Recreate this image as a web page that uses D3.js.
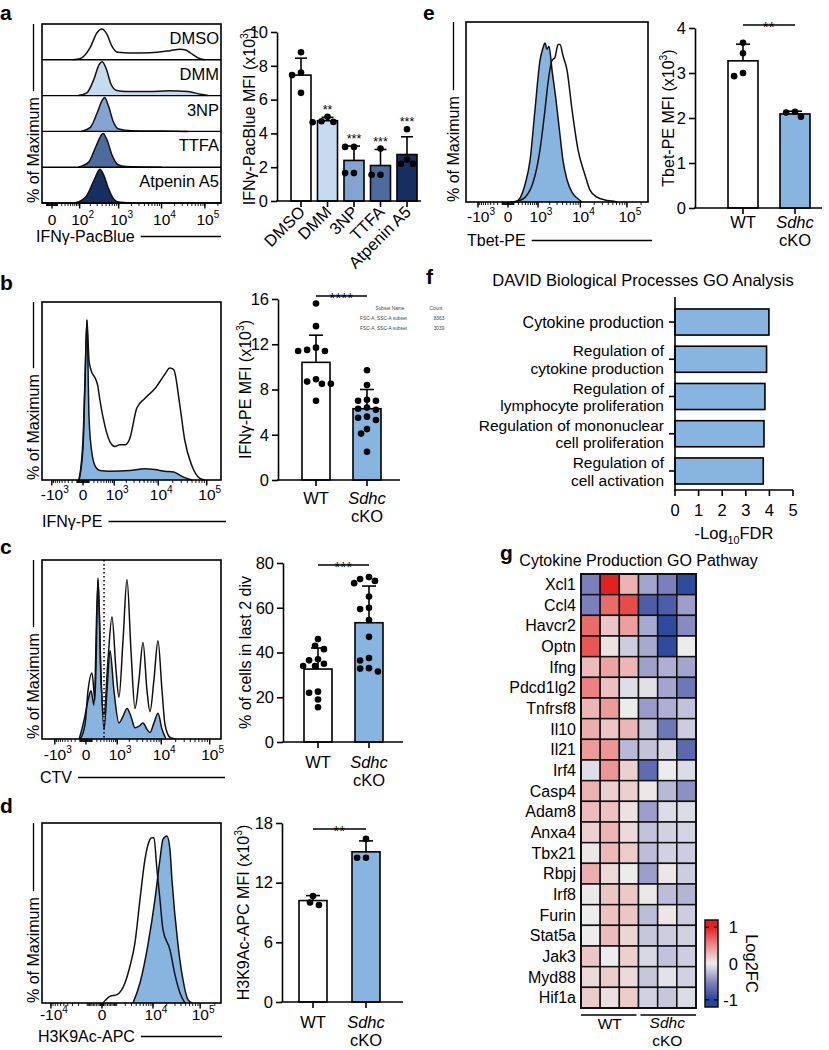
<!DOCTYPE html>
<html><head><meta charset="utf-8">
<script src="https://cdn.jsdelivr.net/npm/d3@7/dist/d3.min.js"></script>
<style>html,body{margin:0;padding:0;background:#fff;} svg{display:block;}</style>
</head><body>
<script>
// ================= DATA =================
// ---- Panel a ----
const aCategories = ["DMSO","DMM","3NP","TTFA","Atpenin A5"];
const aColors = ["#ffffff","#c5dcf0","#83a4d0","#4c6c9e","#162e60"];
const aMeans = [7.45,4.75,2.4,2.1,2.75];
const aSD = [1.0,0.2,0.85,0.95,1.05];
const aPoints = [[8.8,7.6,7.45,6.4],[4.98,4.72,4.68,4.66],[3.2,3.2,1.65,1.65],[3.1,1.55,1.55],[4.25,2.45,2.2,2.2]];
const aStars = ["","**","***","***","***"];
const aYTicks = [0,2,4,6,8,10];
const aHistTicks = [0,1e2,1e3,1e4,1e5];
const aHistTickLabels = [["0",""],["10","2"],["10","3"],["10","4"],["10","5"]];
const aHistDMSO = [[60,0],[102,3],[195,35],[297,80],[396,91],[525,75],[694,40],[966,22],[1850,20],[5400,21],[15700,27],[26600,31],[36000,29],[45400,21],[77000,3],[100000,0]];
const aHistDMM = [[90,0],[160,8],[250,50],[330,90],[400,100],[500,80],[650,35],[900,15],[1500,12],[5000,12],[15000,14],[40000,12],[80000,4],[120000,0]];
const aHist3NP = [[110,0],[200,12],[300,55],[400,92],[460,100],[560,78],[750,28],[1000,7],[2000,2],[10000,1],[40000,0]];
const aHistTTFA = [[90,0],[180,15],[280,62],[420,100],[520,82],[700,35],[950,8],[1500,2],[10000,0]];
const aHistAtpenin = [[70,0],[150,18],[250,68],[350,100],[440,82],[560,45],[760,12],[1000,3],[2000,0]];
const aHistograms = [aHistDMSO,aHistDMM,aHist3NP,aHistTTFA,aHistAtpenin];

// ---- shared genotype labels ----
const genotypes = ["WT","Sdhc cKO"];
const blue = "#87b5e0";

// ---- Panel b ----
const bMeans = [10.4,6.3];
const bSD = [2.4,1.7];
const bPoints = [[15.6,13.6,11.7,11.4,11.4,11.5,8.7,8.5,8.5,8.9,7.0],[9.7,8.4,7.0,7.0,7.1,6.3,6.2,6.4,5.5,5.3,5.6,4.5,4.1,2.5]];
const bYTicks = [0,4,8,12,16];
const bStars = "****";
const bHistTicks = [-1e3,0,1e3,1e4,1e5];
const bHistTickLabels = [["-10","3"],["0",""],["10","3"],["10","4"],["10","5"]];
const bHistWT = [[-62,0],[0,25],[29,62],[61,100],[97,75],[125,70],[156,67],[225,64],[300,59],[363,50],[538,34],[760,24],[1040,21],[1393,22],[1840,22],[2406,26],[3460,45],[5170,51],[8440,57],[13700,66],[17400,70],[21000,69],[28000,47],[35400,25],[49500,9],[72200,1],[91500,0]];
const bHistKO = [[-62,0],[0,20],[29,60],[61,100],[97,40],[125,25],[225,9],[363,6],[760,5.5],[2406,6],[5170,7],[8440,6.5],[13700,5.5],[21000,5],[28000,3],[35400,1.5],[49500,0]];
const bSubsetHeader = ["Subset Name","Count"];
const bSubsetRows = [["FSC-A, SSC-A subset","8363"],["FSC-A, SSC-A subset","3039"]];

// ---- Panel c ----
const cMeans = [32.6,53.3];
const cSD = [9.4,16.4];
const cPoints = [[46,43,41.5,36.5,37,34,34,35,22.5,22,19,15.5],[72.8,71,72,73.7,65,59.4,60,54.5,47,37.5,36.4,33,31.5,32.8]];
const cYTicks = [0,20,40,60,80];
const cStars = "***";
const cGate = 400;
const cHistTicks = [-1e3,0,1e3,1e4,1e5];
const cHistTickLabels = [["-10","3"],["0",""],["10","3"],["10","4"],["10","5"]];
const cHistWT = [[-94,0],[-14,9],[30,30],[98,41],[158,24],[228,99],[307,37],[399,15],[543,49],[718,76],[927,43],[1114,26],[1407,61],[1761,99],[2184,55],[2700,19],[3324,37],[4069,60],[4974,30],[5770,17],[7020,37],[8530,61],[10390,30],[11980,9],[15240,1],[19400,0]];
const cHistKO = [[-112,0],[-27,12],[30,24],[80,30],[137,21],[228,100],[307,40],[399,6],[505,30],[627,55],[816,30],[1114,10],[1407,14],[1761,19],[2184,14],[2700,7],[3324,8],[4069,10],[4974,6],[5770,4],[7020,10],[8530,16],[10390,6],[12560,0]];

// ---- Panel d ----
const dMeans = [10.2,15.1];
const dSD = [0.5,1.1];
const dPoints = [[10.65,9.75,10.0],[16.4,14.5,14.5]];
const dYTicks = [0,6,12,18];
const dStars = "**";
const dHistTicks = [-1e4,0,1e4,1e5];
const dHistTickLabels = [["-10","4"],["0",""],["10","4"],["10","5"]];
const dHistWT = [[48,0],[456,4],[1023,5],[1945,12],[2727,22],[3712,36],[4970,62],[6546,86],[8550,98],[9470,99],[10500,99],[12250,80],[14270,62],[16580,44],[23400,32],[29900,17],[38100,6],[48400,0]];
const dHistKO = [[3300,0],[4970,12],[7690,35],[11070,62],[14270,86],[16580,98],[20200,100],[23400,92],[25800,74],[34600,35],[44000,14],[55900,2],[67700,0]];

// ---- Panel e ----
const eMeans = [3.27,2.09];
const eSD = [0.37,0.06];
const ePoints = [[3.67,3.44,3.0,2.93],[2.14,2.03,2.12]];
const eYTicks = [0,1,2,3,4];
const eStars = "**";
const eHistTicks = [-1e3,0,1e3,1e4,1e5];
const eHistTickLabels = [["-10","3"],["0",""],["10","3"],["10","4"],["10","5"]];
const eHistWT = [[31,0],[239,1],[579,7.5],[1134,33],[1530,58],[1818,75],[2278,89],[2685,91],[3160,99],[3509,99],[4110,92],[5070,83],[6560,58],[8880,33],[12630,17],[16230,7.5],[22980,3],[34080,1.3],[48100,0.6],[64500,0]];
const eHistKO = [[123,0],[239,2.5],[389,11],[579,26],[822,58],[1134,89],[1359,97],[1530,100],[1719,96],[1924,98],[2278,83],[2836,64],[3509,42],[4110,26],[5070,14],[6560,6],[8460,2.5],[10870,0]];

// ---- Panel f ----
const fTerms = [["Cytokine production"],["Regulation of","cytokine production"],["Regulation of","lymphocyte proliferation"],["Regulation of mononuclear","cell proliferation"],["Regulation of","cell activation"]];
const fValues = [3.98,3.88,3.81,3.77,3.74];
const fTicks = [0,1,2,3,4,5];

// ---- Panel g ----
const gGenes = ["Xcl1","Ccl4","Havcr2","Optn","Ifng","Pdcd1lg2","Tnfrsf8","Il10","Il21","Irf4","Casp4","Adam8","Anxa4","Tbx21","Rbpj","Irf8","Furin","Stat5a","Jak3","Myd88","Hif1a"];
const gSamples = ["WT1","WT2","WT3","KO1","KO2","KO3"];
const gValues = [
 [-0.55,1.0,0.3,-0.35,-0.55,-0.95],
 [-0.55,0.65,0.8,-0.8,-0.8,-0.38],
 [0.65,0.2,0.4,-0.33,-0.95,-0.48],
 [0.75,0.05,-0.15,-0.33,-0.95,0.0],
 [0.25,0.38,0.28,-0.37,-0.3,-0.35],
 [0.55,0.23,-0.07,-0.06,-0.35,-0.62],
 [0.28,0.42,0.0,-0.4,-0.3,-0.2],
 [0.33,0.2,0.28,-0.2,-0.62,-0.15],
 [0.42,0.45,-0.25,-0.2,-0.1,-0.72],
 [-0.07,0.45,0.15,-0.7,0.0,-0.08],
 [0.3,0.15,0.15,0.02,-0.25,-0.45],
 [0.25,0.22,0.05,-0.38,-0.08,-0.08],
 [0.15,0.28,0.1,-0.2,-0.13,-0.12],
 [0.03,0.27,0.17,-0.23,-0.13,-0.15],
 [0.32,0.1,0.0,-0.38,0.03,-0.15],
 [0.02,0.2,0.18,0.02,-0.23,-0.27],
 [0.0,0.22,0.2,-0.23,0.03,-0.15],
 [0.0,0.25,0.12,-0.18,-0.15,-0.13],
 [0.2,0.0,0.15,-0.1,-0.2,-0.15],
 [0.1,0.17,0.1,-0.18,-0.05,-0.13],
 [0.17,0.07,0.17,-0.13,-0.18,-0.08]
];
const gColorStops = [-1,-0.5,0,0.5,1];
const gColorRange = ["#26449a","#8486c0","#ececec","#ec8c8c","#e3211f"];
const gLegendTicks = [1,0,-1];

// ================= DRAWING =================
const FF = '"Liberation Sans", Arial, Helvetica, sans-serif';
const SW = 1.6;
const svg = d3.select("body").append("svg").attr("width",829).attr("height",1050).attr("font-family",FF);
svg.append("rect").attr("width",829).attr("height",1050).attr("fill","#fff");

function rich(g, x, y, segs, o = {}) {
  const size = o.size || 16;
  const t = g.append("text").attr("x", x).attr("y", y).attr("font-size", size)
    .attr("text-anchor", o.anchor || "start").attr("fill", o.fill || "#000");
  if (o.rotate != null) t.attr("transform", `rotate(${o.rotate},${x},${y})`);
  if (o.italic) t.attr("font-style", "italic");
  if (o.weight) t.attr("font-weight", o.weight);
  if (o.spacing) t.attr("letter-spacing", o.spacing);
  let shift = 0;
  (typeof segs === "string" ? [{t: segs}] : segs).forEach(s => {
    const sp = t.append("tspan").text(s.t);
    let target = 0;
    if (s.sup) { target = -size * 0.42; sp.attr("font-size", size * 0.65); }
    if (s.sub) { target = size * 0.28; sp.attr("font-size", size * 0.65); }
    if (target !== shift) { sp.attr("dy", target - shift); shift = target; }
    if (s.italic) sp.attr("font-style", "italic");
  });
  return t;
}
function line(g, x1, y1, x2, y2, w = SW, dash = null) {
  const l = g.append("line").attr("x1", x1).attr("y1", y1).attr("x2", x2).attr("y2", y2)
    .attr("stroke", "#000").attr("stroke-width", w);
  if (dash) l.attr("stroke-dasharray", dash);
  return l;
}
function panelLabel(s, x, y) { rich(svg, x, y, s, {size: 21, weight: "bold"}); }

function histFrame(o) {
  const g = o.g;
  const minors = [];
  for (let d = 0; d <= 6; d++) for (let k = 1; k <= 9; k++) { const v = k * Math.pow(10, d); minors.push(v, -v); }
  const mv = minors.filter(v => { const p = o.xs(v); return p > o.x0 + 1.5 && p < o.x1 - 1.5; });
  g.selectAll(null).data(mv).join("line")
    .attr("x1", d => o.xs(d)).attr("x2", d => o.xs(d)).attr("y1", o.y1).attr("y2", o.y1 + 3)
    .attr("stroke", "#000").attr("stroke-width", 0.9);
  g.selectAll(null).data(o.ticks).join("line")
    .attr("x1", d => o.xs(d)).attr("x2", d => o.xs(d)).attr("y1", o.y1).attr("y2", o.y1 + 5.5)
    .attr("stroke", "#000").attr("stroke-width", 1.4);
  o.ticks.forEach((v, i) => {
    const lab = o.tickLabels[i];
    const segs = [{t: lab[0]}];
    if (lab[1]) segs.push({t: lab[1], sup: true});
    rich(g, o.xs(v) + (lab[1] ? 3 : 0), o.tickBase, segs, {anchor: "middle", size: 15.5});
  });
  const xl = rich(g, o.xLabelX, o.xLabelBase, o.xLabel, {size: 16});
  const len = xl.node().getComputedTextLength();
  line(g, o.xLabelX + len + 6, o.xLabelBase - 5.5, o.xLineEnd, o.xLabelBase - 5.5, 1.3);
  const yl = g.append("text").attr("transform", `translate(${o.yLabelX},${o.y1}) rotate(-90)`)
    .attr("font-size", 16).text("% of Maximum");
  const ylen = yl.node().getComputedTextLength();
  line(g, o.yLabelX - 5.5, o.y1 - ylen - 6, o.yLabelX - 5.5, o.y0, 1.3);
  g.append("rect").attr("x", o.x0).attr("y", o.y0).attr("width", o.x1 - o.x0).attr("height", o.y1 - o.y0)
    .attr("fill", "none").attr("stroke", "#000").attr("stroke-width", SW);
}
function drawCurve(g, data, xs, ys, fill) {
  if (fill) g.append("path").datum(data)
    .attr("d", d3.area().x(d => xs(d[0])).y0(ys(0)).y1(d => ys(d[1])).curve(d3.curveMonotoneX))
    .attr("fill", fill);
  g.append("path").datum(data)
    .attr("d", d3.line().x(d => xs(d[0])).y(d => ys(d[1])).curve(d3.curveMonotoneX))
    .attr("fill", "none").attr("stroke", "#111").attr("stroke-width", 1.5).attr("stroke-linejoin", "round");
}
function swarm(vals, y, cx, r) {
  const placed = [];
  const order = vals.map((v, i) => [v, i]).sort((a, b) => b[0] - a[0]);
  order.forEach(([v]) => {
    const py = y(v);
    for (let k = 0; k < 40; k++) {
      const off = (k % 2 ? -1 : 1) * Math.ceil(k / 2) * r * 0.9;
      const px = cx + off;
      if (placed.every(p => Math.hypot(p[0] - px, p[1] - py) >= 2 * r + 0.3)) { placed.push([px, py]); break; }
    }
  });
  return placed;
}
function barChart(o) {
  const g = svg.append("g");
  const y = d3.scaleLinear().domain([0, o.yMax]).range([o.yBottom, o.yTop]);
  const x = d3.scalePoint().domain(o.cats).range(o.centers);
  g.selectAll(null).data(o.cats).join("rect")
    .attr("x", d => x(d) - o.barW / 2).attr("y", (d, i) => y(o.means[i]))
    .attr("width", o.barW).attr("height", (d, i) => y(0) - y(o.means[i]))
    .attr("fill", (d, i) => o.fills[i]).attr("stroke", "#000").attr("stroke-width", SW);
  o.cats.forEach((c, i) => {
    const top = y(o.means[i] + o.sd[i]);
    line(g, x(c), y(o.means[i]), x(c), top);
    line(g, x(c) - o.cap / 2, top, x(c) + o.cap / 2, top);
  });
  o.cats.forEach((c, i) => {
    g.selectAll(null).data(swarm(o.points[i], y, x(c), 3.3)).join("circle")
      .attr("cx", d => d[0]).attr("cy", d => d[1]).attr("r", 3.3).attr("fill", "#000");
  });
  const ax = g.append("g").attr("transform", `translate(${o.axisX},0)`)
    .call(d3.axisLeft(y).tickValues(o.ticks).tickFormat(d3.format("d")).tickSize(6).tickSizeOuter(0).tickPadding(3));
  ax.attr("font-family", FF).attr("font-size", 16.5);
  ax.select(".domain").attr("stroke-width", SW).attr("stroke", "#000");
  ax.selectAll(".tick line").attr("stroke-width", SW).attr("stroke", "#000");
  ax.selectAll(".tick text").attr("fill", "#000");
  line(g, o.axisX - SW / 2, y(0), o.xEnd, y(0));
  o.cats.forEach(c => line(g, x(c), y(0), x(c), y(0) + 6));
  rich(g, o.yLabelX, (o.yTop + o.yBottom) / 2, o.yLabel, {anchor: "middle", rotate: -90, size: 16});
  return {g, x, y};
}
function genotypeLabels(g, x, base) {
  rich(g, x(genotypes[0]), base, "WT", {anchor: "middle", size: 16.5});
  rich(g, x(genotypes[1]), base, "Sdhc", {anchor: "middle", size: 16.5, italic: true});
  rich(g, x(genotypes[1]), base + 18, "cKO", {anchor: "middle", size: 16.5});
}
function sigBar(g, x, yLine, stars) {
  line(g, x(genotypes[0]), yLine, x(genotypes[1]), yLine, 1.4);
  rich(g, (x(genotypes[0]) + x(genotypes[1])) / 2, yLine + 7, stars, {anchor: "middle", size: 14, spacing: 0.5});
}

// ---------------- Panel a ----------------
panelLabel("a", 0, 19.5);
{
  const g = svg.append("g");
  const xs = d3.scaleSymlog().constant(30).domain([-21, 235000]).range([42, 221]);
  const rows = d3.scaleBand().domain(aCategories).range([24, 203]);
  aCategories.forEach((c, i) => {
    const top = rows(c), bot = top + rows.bandwidth();
    const ys = d3.scaleLinear([0, 100], [bot, top + 2]);
    drawCurve(g, aHistograms[i], xs, ys, i === 0 ? null : aColors[i]);
    line(g, 42, bot, 221, bot, 1.4);
    rich(g, 219, top + 20, c, {anchor: "end", size: 16.5});
  });
  histFrame({g, xs, x0: 42, x1: 221, y0: 24, y1: 203, ticks: aHistTicks, tickLabels: aHistTickLabels,
    tickBase: 225, xLabel: "IFNγ-PacBlue", xLabelX: 36, xLabelBase: 242, xLineEnd: 221, yLabelX: 39});

  const bc = barChart({cats: aCategories, centers: [301, 407], barW: 20, cap: 12, axisX: 277, xEnd: 421,
    yMax: 10, yBottom: 201, yTop: 32, ticks: aYTicks, means: aMeans, sd: aSD, points: aPoints, fills: aColors,
    yLabelX: 255, yLabel: [{t: "IFNγ-PacBlue MFI (x10"}, {t: "3", sup: true}, {t: ")"}]});
  aCategories.forEach((c, i) => {
    rich(bc.g, bc.x(c) + 5, 213, c, {anchor: "end", rotate: -45, size: 16.5});
    if (aStars[i]) {
      const top = Math.max(aMeans[i] + aSD[i], d3.max(aPoints[i]));
      rich(bc.g, bc.x(c), bc.y(top) - 3, aStars[i], {anchor: "middle", size: 12.5});
    }
  });
}

// ---------------- Panel b ----------------
panelLabel("b", 0, 290);
{
  const g = svg.append("g");
  const xs = d3.scaleSymlog().constant(300).domain([-1760, 196000]).range([42, 221]);
  const ys = d3.scaleLinear([0, 100], [480, 320]);
  drawCurve(g, bHistKO, xs, ys, blue);
  drawCurve(g, bHistWT, xs, ys, null);
  histFrame({g, xs, x0: 42, x1: 221, y0: 302, y1: 480, ticks: bHistTicks, tickLabels: bHistTickLabels,
    tickBase: 500, xLabel: "IFNγ-PE", xLabelX: 42, xLabelBase: 527, xLineEnd: 226, yLabelX: 39});
  const bc = barChart({cats: genotypes, centers: [316, 367], barW: 28, cap: 14, axisX: 278, xEnd: 400,
    yMax: 16, yBottom: 480, yTop: 299, ticks: bYTicks, means: bMeans, sd: bSD, points: bPoints, fills: ["#fff", blue],
    yLabelX: 251, yLabel: [{t: "IFNγ-PE MFI (x10"}, {t: "3", sup: true}, {t: ")"}]});
  genotypeLabels(bc.g, bc.x, 504);
  sigBar(bc.g, bc.x, 296, bStars);
  const tg = svg.append("g");
  rich(tg, 390, 310, bSubsetHeader[0], {size: 4.8, anchor: "middle", fill: "#444"});
  rich(tg, 436, 310, bSubsetHeader[1], {size: 4.8, anchor: "middle", fill: "#444"});
  bSubsetRows.forEach((r, i) => {
    rich(tg, 360, 320 + i * 10, r[0], {size: 4.8, fill: "#444"});
    rich(tg, 439, 320 + i * 10, r[1], {size: 4.8, anchor: "middle", fill: "#444"});
  });
}

// ---------------- Panel c ----------------
panelLabel("c", 0, 554);
{
  const g = svg.append("g");
  const xs = d3.scaleSymlog().constant(300).domain([-2070, 170400]).range([42, 221]);
  const ys = d3.scaleLinear([0, 100], [739, 578]);
  drawCurve(g, cHistKO, xs, ys, blue);
  drawCurve(g, cHistWT, xs, ys, null);
  line(g, xs(cGate), 560, xs(cGate), 739, 1.5, "1.5,2.5");
  histFrame({g, xs, x0: 42, x1: 221, y0: 560, y1: 739, ticks: cHistTicks, tickLabels: cHistTickLabels,
    tickBase: 760, xLabel: "CTV", xLabelX: 40, xLabelBase: 783, xLineEnd: 225, yLabelX: 39});
  const bc = barChart({cats: genotypes, centers: [318, 369], barW: 28, cap: 14, axisX: 283, xEnd: 403,
    yMax: 80, yBottom: 742, yTop: 563, ticks: cYTicks, means: cMeans, sd: cSD, points: cPoints, fills: ["#fff", blue],
    yLabelX: 251, yLabel: "% of cells in last 2 div"});
  genotypeLabels(bc.g, bc.x, 768);
  sigBar(bc.g, bc.x, 565, cStars);
}

// ---------------- Panel d ----------------
panelLabel("d", 0, 813);
{
  const g = svg.append("g");
  const xs = d3.scaleSymlog().constant(1000).domain([-15750, 268000]).range([42, 221]);
  const ys = d3.scaleLinear([0, 100], [1003, 836]);
  drawCurve(g, dHistKO, xs, ys, blue);
  drawCurve(g, dHistWT, xs, ys, null);
  histFrame({g, xs, x0: 42, x1: 221, y0: 823, y1: 1003, ticks: dHistTicks, tickLabels: dHistTickLabels,
    tickBase: 1020, xLabel: "H3K9Ac-APC", xLabelX: 38, xLabelBase: 1042, xLineEnd: 222, yLabelX: 39});
  const bc = barChart({cats: genotypes, centers: [313, 366], barW: 28, cap: 14, axisX: 282, xEnd: 403,
    yMax: 18, yBottom: 1002, yTop: 823, ticks: dYTicks, means: dMeans, sd: dSD, points: dPoints, fills: ["#fff", blue],
    yLabelX: 249, yLabel: [{t: "H3K9Ac-APC MFI (x10"}, {t: "3", sup: true}, {t: ")"}]});
  genotypeLabels(bc.g, bc.x, 1028);
  sigBar(bc.g, bc.x, 829, dStars);
}

// ---------------- Panel e ----------------
panelLabel("e", 423, 19.5);
{
  const g = svg.append("g");
  const xs = d3.scaleSymlog().constant(300).domain([-2040, 281000]).range([466, 648]);
  const ys = d3.scaleLinear([0, 100], [202, 43]);
  drawCurve(g, eHistKO, xs, ys, blue);
  drawCurve(g, eHistWT, xs, ys, null);
  histFrame({g, xs, x0: 466, x1: 648, y0: 22, y1: 202, ticks: eHistTicks, tickLabels: eHistTickLabels,
    tickBase: 222, xLabel: "Tbet-PE", xLabelX: 467, xLabelBase: 246, xLineEnd: 652, yLabelX: 459});
  const bc = barChart({cats: genotypes, centers: [743, 795], barW: 30, cap: 14, axisX: 695, xEnd: 822,
    yMax: 4, yBottom: 208, yTop: 28, ticks: eYTicks, means: eMeans, sd: eSD, points: ePoints, fills: ["#fff", blue],
    yLabelX: 674, yLabel: [{t: "Tbet-PE MFI (x10"}, {t: "3", sup: true}, {t: ")"}]});
  genotypeLabels(bc.g, bc.x, 228);
  sigBar(bc.g, bc.x, 25, eStars);
}

// ---------------- Panel f ----------------
panelLabel("f", 426, 284);
{
  const g = svg.append("g");
  rich(g, 643, 286, "DAVID Biological Processes GO Analysis", {anchor: "middle", size: 16.5});
  const x = d3.scaleLinear().domain([0, 5]).range([675, 793]);
  const y = d3.scaleBand().domain(d3.range(fTerms.length)).range([303.4, 489.6]).paddingInner(0.3).paddingOuter(0.15);
  g.selectAll(null).data(fValues).join("rect")
    .attr("x", x(0)).attr("y", (d, i) => y(i)).attr("width", d => x(d) - x(0)).attr("height", y.bandwidth())
    .attr("fill", blue).attr("stroke", "#000").attr("stroke-width", SW);
  line(g, x(0), 297, x(0), 491);
  line(g, x(0) - SW / 2, 490, x(5), 490);
  fTicks.forEach(t => {
    line(g, x(t), 490, x(t), 496);
    rich(g, x(t), 516, String(t), {anchor: "middle", size: 16.5});
  });
  fTerms.forEach((lines, i) => {
    const c = y(i) + y.bandwidth() / 2;
    line(g, x(0) - 6, c, x(0), c);
    if (lines.length === 1) rich(g, 664, c + 5.8, lines[0], {anchor: "end", size: 16});
    else {
      rich(g, 664, c - 2.8, lines[0], {anchor: "end", size: 15.5});
      rich(g, 664, c + 14.7, lines[1], {anchor: "end", size: 15.5});
    }
  });
  rich(g, 734, 539, [{t: "-Log"}, {t: "10", sub: true}, {t: "FDR"}], {anchor: "middle", size: 16.5});
}

// ---------------- Panel g ----------------
panelLabel("g", 500, 560);
{
  const g = svg.append("g");
  rich(g, 638.5, 566, "Cytokine Production GO Pathway", {anchor: "middle", size: 16});
  const color = d3.scaleLinear().domain(gColorStops).range(gColorRange).clamp(true);
  const x = d3.scaleBand().domain(gSamples).range([581, 696]);
  const y = d3.scaleBand().domain(gGenes).range([574, 1008]);
  gGenes.forEach((gene, r) => {
    g.selectAll(null).data(gValues[r]).join("rect")
      .attr("x", (d, c) => x(gSamples[c])).attr("y", y(gene))
      .attr("width", x.bandwidth()).attr("height", y.bandwidth())
      .attr("fill", d => color(d)).attr("stroke", "#111").attr("stroke-width", 1.5);
    rich(g, 576, y(gene) + y.bandwidth() / 2 + 5.8, gene, {anchor: "end", size: 16});
  });
  g.append("rect").attr("x", 581).attr("y", 574).attr("width", 115).attr("height", 434)
    .attr("fill", "none").attr("stroke", "#111").attr("stroke-width", 2);
  line(g, x("WT1"), 1015, x("WT3") + x.bandwidth() - 2, 1015, 1.4);
  line(g, x("KO1") + 2, 1015, x("KO3") + x.bandwidth(), 1015, 1.4);
  rich(g, (x("WT1") + x("WT3") + x.bandwidth()) / 2, 1029, "WT", {anchor: "middle", size: 15.5});
  rich(g, (x("KO1") + x("KO3") + x.bandwidth()) / 2, 1028, "Sdhc", {anchor: "middle", size: 15.5, italic: true});
  rich(g, (x("KO1") + x("KO3") + x.bandwidth()) / 2, 1045.5, "cKO", {anchor: "middle", size: 15.5});
  const cb = d3.scaleLinear().domain([-1.2, 1.2]).range([1007, 920]);
  const grad = svg.append("defs").append("linearGradient").attr("id", "cbgrad")
    .attr("x1", 0).attr("y1", 1).attr("x2", 0).attr("y2", 0);
  d3.range(-1.2, 1.2001, 0.1).forEach(v => grad.append("stop").attr("offset", (v + 1.2) / 2.4).attr("stop-color", color(v)));
  g.append("rect").attr("x", 705).attr("y", 920).attr("width", 13).attr("height", 87)
    .attr("fill", "url(#cbgrad)").attr("stroke", "#111").attr("stroke-width", 1.5);
  gLegendTicks.forEach(v => {
    if (v !== 0) { line(g, 705, cb(v), 709, cb(v), 1.3); line(g, 714, cb(v), 718, cb(v), 1.3); }
    rich(g, 738, cb(v) + 6, String(v), {anchor: "end", size: 16.5});
  });
  rich(g, 746, cb(0), "Log2FC", {anchor: "middle", size: 16.5, rotate: 90});
}
</script>
</body></html>
